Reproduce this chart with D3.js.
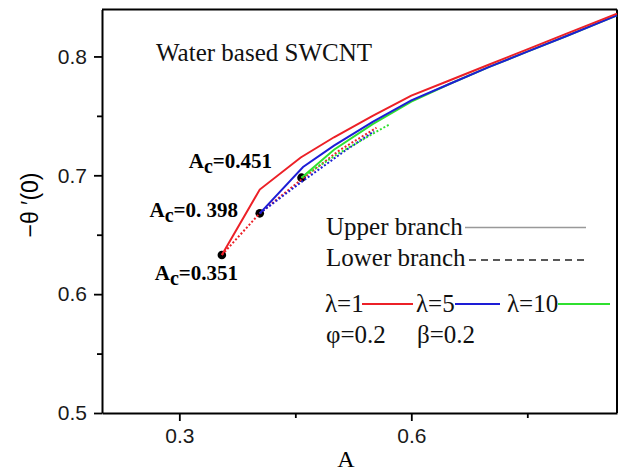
<!DOCTYPE html>
<html>
<head>
<meta charset="utf-8">
<script src="https://cdn.jsdelivr.net/npm/d3@7"></script>
<style>
  body { margin: 0; background: #fff; }
  svg { display: block; }
</style>
</head>
<body>
<div id="chart"></div>
<script>
// Upper branch (solid) values
const upperA_l1  = [0.355, 0.404, 0.457, 0.50, 0.55, 0.60, 0.65, 0.70, 0.75, 0.80, 0.866];
const upperT_l1  = [0.633, 0.688, 0.715, 0.732, 0.750, 0.767, 0.780, 0.793, 0.806, 0.819, 0.836];
const upperA_l5  = [0.404, 0.460, 0.50, 0.55, 0.60, 0.65, 0.70, 0.75, 0.80, 0.866];
const upperT_l5  = [0.668, 0.707, 0.725, 0.745, 0.763, 0.777, 0.791, 0.804, 0.817, 0.8345];
const upperA_l10 = [0.458, 0.500, 0.55, 0.60, 0.65, 0.70, 0.75, 0.80, 0.866];
const upperT_l10 = [0.698, 0.7215, 0.743, 0.762, 0.777, 0.791, 0.804, 0.817, 0.8345];

// Lower branch (dotted)
const lowerA_l1  = [0.355, 0.404, 0.455, 0.507, 0.555];
const lowerT_l1  = [0.633, 0.668, 0.695, 0.721, 0.740];
const lowerA_l5  = [0.404, 0.455, 0.515, 0.552];
const lowerT_l5  = [0.668, 0.693, 0.721, 0.737];
const lowerA_l10 = [0.458, 0.505, 0.572];
const lowerT_l10 = [0.698, 0.718, 0.743];

// Critical points
const criticalA = [0.355, 0.404, 0.458];
const criticalT = [0.633, 0.668, 0.698];
const criticalLabels = ['=0.351', '=0. 398', '=0.451'];

// Axis ticks
const xTicks = [0.3, 0.6];
const xMinorTicks = [0.45, 0.75];
const yTicks = [0.5, 0.6, 0.7, 0.8];
const yMinorTicks = [0.55, 0.65, 0.75];

const seriesNames = ['λ=1', 'λ=5', 'λ=10'];

const width = 624, height = 472;
const margin = { top: 9.5, right: 7, bottom: 59, left: 102 };
const plotW = width - margin.left - margin.right;
const plotH = height - margin.top - margin.bottom;

const colors = { 'λ=1': '#ec2027', 'λ=5': '#1d1dd6', 'λ=10': '#2fe02f' };

const svg = d3.select('#chart').append('svg')
    .attr('width', width)
    .attr('height', height);

const g = svg.append('g')
    .attr('transform', 'translate(' + margin.left + ',' + margin.top + ')');

const x = d3.scaleLinear().domain([0.2, 0.866]).range([0, plotW]);
const y = d3.scaleLinear().domain([0.5, 0.8395]).range([plotH, 0]);

const sansStyle = 'font-family: "Liberation Sans", Arial, sans-serif; font-size: 21px;';
const serif = '"Liberation Serif", "Times New Roman", serif';

// x axis
g.append('g')
    .attr('transform', 'translate(0,' + plotH + ')')
    .call(d3.axisBottom(x).tickValues(xTicks).tickFormat(d3.format('.1f')).tickSize(8).tickPadding(7).tickSizeOuter(0));
g.append('g')
    .attr('transform', 'translate(0,' + plotH + ')')
    .call(d3.axisBottom(x).tickValues(xMinorTicks).tickFormat('').tickSize(5).tickSizeOuter(0))
    .select('.domain').remove();

// y axis
g.append('g')
    .call(d3.axisLeft(y).tickValues(yTicks).tickFormat(d3.format('.1f')).tickSize(8).tickPadding(7).tickSizeOuter(0));
g.append('g')
    .call(d3.axisLeft(y).tickValues(yMinorTicks).tickFormat('').tickSize(5).tickSizeOuter(0))
    .select('.domain').remove();

g.selectAll('.tick line').attr('stroke', '#000').attr('stroke-width', 1.8);
g.selectAll('.domain').attr('stroke', '#000').attr('stroke-width', 2);
g.selectAll('.tick text').attr('style', sansStyle).attr('fill', '#1a1a1a');

// frame top and right
g.append('line').attr('x1', 0).attr('x2', plotW).attr('y1', 0).attr('y2', 0)
    .attr('stroke', '#000').attr('stroke-width', 2);
g.append('line').attr('x1', plotW).attr('x2', plotW).attr('y1', 0).attr('y2', plotH)
    .attr('stroke', '#000').attr('stroke-width', 2);

// axis titles
svg.append('text')
    .attr('x', 346).attr('y', 467)
    .attr('text-anchor', 'middle')
    .attr('style', 'font-family:' + serif + '; font-size: 24px;')
    .text('A');

svg.append('text')
    .attr('transform', 'translate(38,205) rotate(-90)')
    .attr('text-anchor', 'middle')
    .attr('style', 'font-family: "Liberation Sans", Arial, sans-serif; font-size: 23px;')
    .text('−θ ′(0)');

// critical points (under the curves)
g.selectAll('circle.crit')
  .data(criticalA)
  .enter().append('circle')
    .attr('class', 'crit')
    .attr('cx', function(d) { return x(d); })
    .attr('cy', function(d, i) { return y(criticalT[i]); })
    .attr('r', 4.3)
    .attr('fill', '#000');

const line = d3.line()
    .x(function(d) { return x(d[0]); })
    .y(function(d) { return y(d[1]); });

const upper = [
  { name: 'λ=1', a: upperA_l1, t: upperT_l1 },
  { name: 'λ=5', a: upperA_l5, t: upperT_l5 },
  { name: 'λ=10', a: upperA_l10, t: upperT_l10 }
];
const lower = [
  { name: 'λ=1', a: lowerA_l1, t: lowerT_l1 },
  { name: 'λ=5', a: lowerA_l5, t: lowerT_l5 },
  { name: 'λ=10', a: lowerA_l10, t: lowerT_l10 }
];

g.selectAll('path.lower')
  .data(lower)
  .enter().append('path')
    .attr('class', 'lower')
    .attr('d', function(s) { return line(s.a.map(function(v, i) { return [v, s.t[i]]; })); })
    .attr('fill', 'none')
    .attr('stroke', function(s) { return colors[s.name]; })
    .attr('stroke-width', 2)
    .attr('stroke-dasharray', '2,2');

// draw upper branches, λ=10 first so blue and red sit on top
g.selectAll('path.upper')
  .data(upper.slice().reverse())
  .enter().append('path')
    .attr('class', 'upper')
    .attr('d', function(s) { return line(s.a.map(function(v, i) { return [v, s.t[i]]; })); })
    .attr('fill', 'none')
    .attr('stroke', function(s) { return colors[s.name]; })
    .attr('stroke-width', 2);

// critical value labels
const annStyle = 'font-family:' + serif + '; font-size: 21px; font-weight: bold;';
const annPos = [ [238, 280], [238, 217], [272, 168] ];
criticalLabels.forEach(function(lab, i) {
  const t = svg.append('text')
      .attr('x', annPos[i][0]).attr('y', annPos[i][1])
      .attr('text-anchor', 'end')
      .attr('style', annStyle);
  t.append('tspan').text('A');
  t.append('tspan').attr('dy', 5).attr('font-size', '20px').text('c');
  t.append('tspan').attr('dy', -5).text(lab);
});

// text inside the plot
const serifStyle = 'font-family:' + serif + '; font-size: 25px; fill: #111;';
svg.append('text').attr('x', 156).attr('y', 61).attr('style', serifStyle).text('Water based SWCNT');

svg.append('text').attr('x', 326).attr('y', 235).attr('style', serifStyle).text('Upper branch');
svg.append('line').attr('x1', 465).attr('x2', 586).attr('y1', 227.5).attr('y2', 227.5)
    .attr('stroke', '#999').attr('stroke-width', 1.5);
svg.append('text').attr('x', 326).attr('y', 265.5).attr('style', serifStyle).text('Lower branch');
svg.append('line').attr('x1', 469).attr('x2', 586).attr('y1', 260).attr('y2', 260)
    .attr('stroke', '#222').attr('stroke-width', 1.5).attr('stroke-dasharray', '7,5');

const legX = [325, 416, 507];
const legLine = [[362, 413], [455, 500], [558, 610]];
seriesNames.forEach(function(n, i) {
  svg.append('text').attr('x', legX[i]).attr('y', 312).attr('style', serifStyle).text(n);
  svg.append('line').attr('x1', legLine[i][0]).attr('x2', legLine[i][1]).attr('y1', 304).attr('y2', 304)
      .attr('stroke', colors[n]).attr('stroke-width', 2);
});

svg.append('text').attr('x', 326).attr('y', 343).attr('style', serifStyle).text('φ=0.2');
svg.append('text').attr('x', 417).attr('y', 343).attr('style', serifStyle).text('β=0.2');
</script>
</body>
</html>
